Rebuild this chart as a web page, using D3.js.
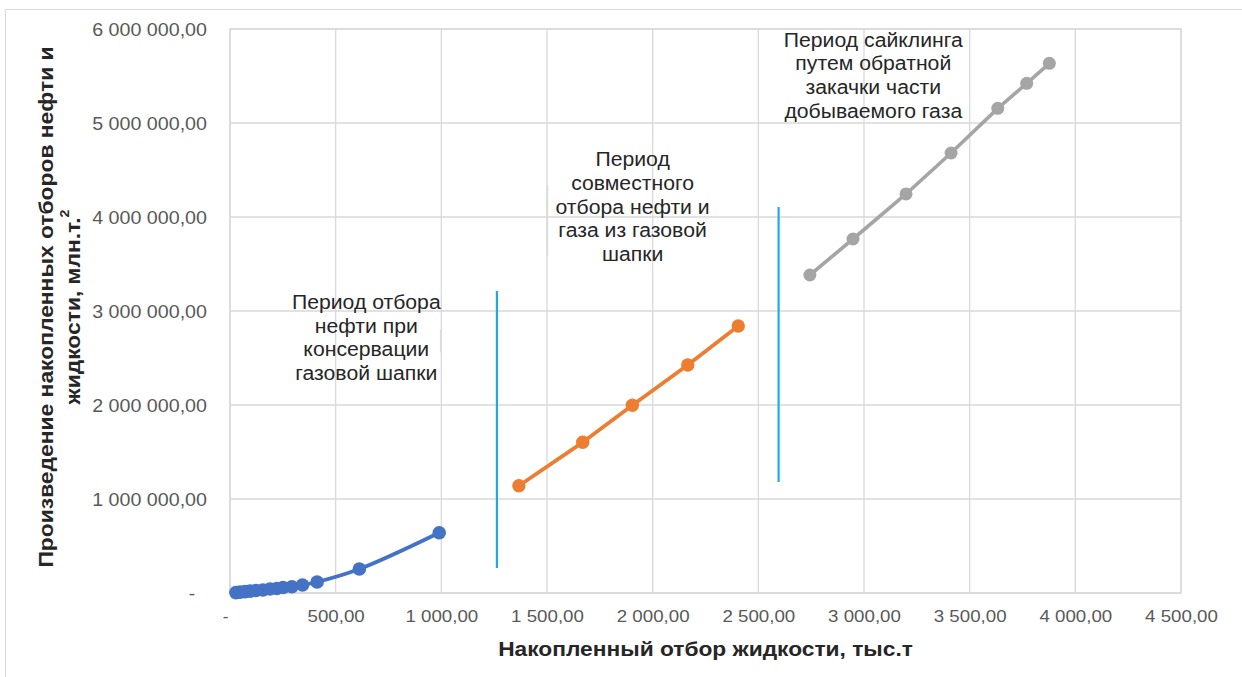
<!DOCTYPE html>
<html>
<head>
<meta charset="utf-8">
<script src="https://cdn.jsdelivr.net/npm/d3@7"></script>
<style>
  html, body { margin: 0; padding: 0; background: #fff; }
  svg { display: block; font-family: "Liberation Sans", Arial, sans-serif; }
</style>
</head>
<body>
<svg id="chart" width="1242" height="677"></svg>
<script>
// Cumulative liquid production (thous. t) vs. product of cumulative oil and liquid (mln t²)
const blueX = [28, 47, 71, 95, 123, 156, 189, 222, 251, 293, 343, 412, 612, 990];
const blueY = [4000, 9000, 15000, 20000, 26000, 32000, 42000, 48000, 58000, 67000, 85000, 117000, 255000, 641000];

const orangeX = [1367, 1669, 1904, 2166, 2405];
const orangeY = [1141000, 1603000, 1997000, 2426000, 2840000];

const grayX = [2744, 2948, 3199, 3412, 3633, 3770, 3877];
const grayY = [3383000, 3766000, 4245000, 4681000, 5156000, 5422000, 5635000];

const xTicks = [0, 500, 1000, 1500, 2000, 2500, 3000, 3500, 4000, 4500];
const yTicks = [0, 1000000, 2000000, 3000000, 4000000, 5000000, 6000000];

// Vertical separators between development periods: [x, yFrom, yTo]
const dividers = [
  [1263, 266000, 3213000],
  [2596, 1180000, 4106000]
];

// Period captions: anchor x, first-line y, lines
const captionX = [645, 1905, 3044];
const captionY = [3096000, 4612000, 5885000];
const captionLines = [
  ["Период отбора", "нефти при", "консервации", "газовой шапки"],
  ["Период", "совместного", "отбора нефти и", "газа из газовой", "шапки"],
  ["Период сайклинга", "путем обратной", "закачки части", "добываемого газа"]
];
// Leftover text-box edge marks: [x, yFrom, yTo]
const boxEdges = [
  [998, 2560000, 2800000],
  [1501, 3590000, 4340000]
];

const xTitle = "Накопленный отбор жидкости, тыс.т";
const yTitle1 = "Произведение накопленных отборов нефти и";
const yTitle2 = "жидкости, млн.т.";

const svg = d3.select("#chart");
const W = 1242, H = 677;
const m = { left: 230, right: 1181, top: 29, bottom: 593 };

const x = d3.scaleLinear().domain([0, 4500]).range([m.left, m.right]);
const y = d3.scaleLinear().domain([0, 6000000]).range([m.bottom, m.top]);

// widen glyph runs slightly (the chart font runs wider than Liberation Sans)
function stretch(sel, f) {
  sel.each(function () {
    const len = this.getComputedTextLength();
    d3.select(this).attr("textLength", len * f).attr("lengthAdjust", "spacingAndGlyphs");
  });
}

// outer chart frame
svg.append("rect")
  .attr("x", 5.5).attr("y", 9.5).attr("width", W + 20).attr("height", H + 20)
  .attr("fill", "none").attr("stroke", "#d9d9d9").attr("stroke-width", 1);

const fmt = v => {
  if (v === 0) return "-";
  return d3.format(",.2f")(v).replace(/,/g, " ").replace(".", ",");
};

// grid
const grid = svg.append("g");
grid.selectAll(".gx").data(xTicks).join("line")
  .attr("x1", d => x(d)).attr("x2", d => x(d))
  .attr("y1", m.top).attr("y2", m.bottom)
  .attr("stroke", "#d9d9d9").attr("stroke-width", 1.3);
grid.selectAll(".gy").data(yTicks).join("line")
  .attr("x1", m.left).attr("x2", m.right)
  .attr("y1", d => y(d)).attr("y2", d => y(d))
  .attr("stroke", "#d9d9d9").attr("stroke-width", 1.3);
grid.append("rect")
  .attr("x", m.left).attr("y", m.top)
  .attr("width", m.right - m.left).attr("height", m.bottom - m.top)
  .attr("fill", "none").attr("stroke", "#d9d9d9").attr("stroke-width", 1.3);

// axes (labels only)
const xAxis = svg.append("g")
  .attr("transform", `translate(0,${m.bottom})`)
  .call(d3.axisBottom(x).tickValues(xTicks).tickFormat(fmt).tickSize(0).tickPadding(17));
xAxis.select(".domain").remove();
xAxis.selectAll("text")
  .attr("font-size", 17).attr("fill", "#595959")
  .attr("font-family", "Liberation Sans, Arial, sans-serif")
  .attr("dx", d => d === 0 ? -5 : 0);
stretch(xAxis.selectAll("text").filter(d => d !== 0), 1.1);

const yAxis = svg.append("g")
  .attr("transform", `translate(${m.left},0)`)
  .call(d3.axisLeft(y).tickValues(yTicks).tickFormat(fmt).tickSize(0).tickPadding(23));
yAxis.select(".domain").remove();
yAxis.selectAll("text")
  .attr("font-size", 19).attr("fill", "#595959")
  .attr("font-family", "Liberation Sans, Arial, sans-serif")
  .attr("dx", d => d === 0 ? -12 : 0);
stretch(yAxis.selectAll("text").filter(d => d !== 0), 1.035);

// period separators
svg.selectAll(".divider").data(dividers).join("line")
  .attr("x1", d => x(d[0])).attr("x2", d => x(d[0]))
  .attr("y1", d => y(d[1])).attr("y2", d => y(d[2]))
  .attr("stroke", "#22a9e1").attr("stroke-width", 2.2);

// series
function series(xs, ys, color, curve, r, w) {
  const pts = xs.map((v, i) => [v, ys[i]]);
  const line = d3.line().x(d => x(d[0])).y(d => y(d[1])).curve(curve);
  svg.append("path").datum(pts)
    .attr("d", line).attr("fill", "none")
    .attr("stroke", color).attr("stroke-width", w)
    .attr("stroke-linejoin", "round").attr("stroke-linecap", "round");
  svg.append("g").selectAll("circle").data(pts).join("circle")
    .attr("cx", d => x(d[0])).attr("cy", d => y(d[1])).attr("r", r)
    .attr("fill", color);
}
series(blueX, blueY, "#4472c4", d3.curveCatmullRom.alpha(0.5), 6.8, 3.8);
series(orangeX, orangeY, "#ed7d31", d3.curveLinear, 6.7, 3.8);
series(grayX, grayY, "#a5a5a5", d3.curveLinear, 6.5, 3.6);

// text-box edge marks
svg.selectAll(".edge").data(boxEdges).join("line")
  .attr("x1", d => x(d[0])).attr("x2", d => x(d[0]))
  .attr("y1", d => y(d[1])).attr("y2", d => y(d[2]))
  .attr("stroke", "#dcdcdc").attr("stroke-width", 2);

// period captions
const lineGap = 23.6;
captionLines.forEach((lines, k) => {
  const g = svg.append("g");
  lines.forEach((s, i) => {
    g.append("text")
      .attr("x", x(captionX[k])).attr("y", y(captionY[k]) + i * lineGap)
      .attr("text-anchor", "middle").attr("dominant-baseline", "central")
      .attr("font-size", 20).attr("fill", "#262626")
      .text(s);
  });
  stretch(g.selectAll("text"), 1.06);
});

// axis titles
const xt = svg.append("text")
  .attr("x", (m.left + m.right) / 2).attr("y", 648)
  .attr("text-anchor", "middle").attr("dominant-baseline", "central")
  .attr("font-size", 21).attr("font-weight", "bold").attr("fill", "#262626")
  .text(xTitle);
stretch(xt, 1.083);

const yc = (m.top + m.bottom) / 2 - 4;
const yt1 = svg.append("text")
  .attr("transform", `translate(45,${yc}) rotate(-90)`)
  .attr("text-anchor", "middle").attr("dominant-baseline", "central")
  .attr("font-size", 21).attr("font-weight", "bold").attr("fill", "#262626")
  .text(yTitle1);
stretch(yt1, 1.087);

const yt2 = svg.append("text")
  .attr("transform", `translate(72,${yc}) rotate(-90)`)
  .attr("text-anchor", "middle").attr("dominant-baseline", "central")
  .attr("font-size", 21).attr("font-weight", "bold").attr("fill", "#262626")
  .text(yTitle2);
yt2.append("tspan").attr("font-size", 13).attr("dy", -8).text("2");
stretch(yt2, 1.087);
</script>
</body>
</html>
